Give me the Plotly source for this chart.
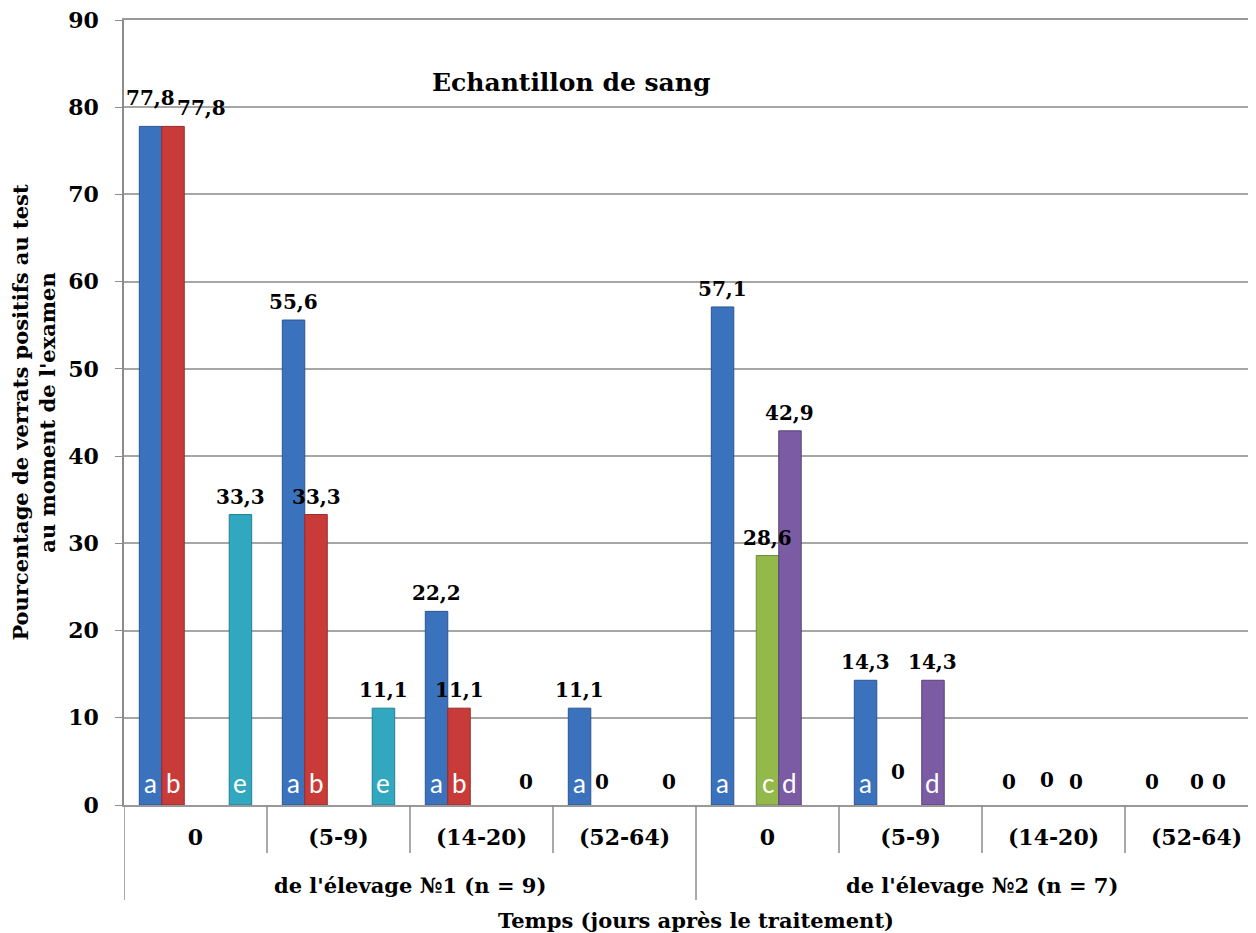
import plotly.graph_objects as go

# données
temps = ["0", "(5-9)", "(14-20)", "(52-64)", "0", "(5-9)", "(14-20)", "(52-64)"]
elevages = ["de l'élevage №1 (n = 9)", "de l'élevage №2 (n = 7)"]
lettres = ["a", "b", "c", "d", "e"]
serie_a = [77.8, 55.6, 22.2, 11.1, 57.1, 14.3, 0, 0]
serie_b = [77.8, 33.3, 11.1, 0, None, None, None, None]
serie_c = [None, None, None, None, 28.6, 0, 0, 0]
serie_d = [None, None, None, None, 42.9, 14.3, 0, 0]
serie_e = [33.3, 11.1, 0, 0, None, None, None, None]
series = [serie_a, serie_b, serie_c, serie_d, serie_e]

couleurs = ["#3A72BD", "#C93B39", "#93B94A", "#7B5BA4", "#31A7C0"]
bords = ["#2B5690", "#962B2A", "#6E8C34", "#5A4279", "#23808F"]

SERIF = "DejaVu Serif"
BARGAP = 0.214
slot = (1 - BARGAP) / len(series)

# petits décalages des étiquettes (comme dans le graphique Excel)
decalages = {(0, 0): (0, 10), (1, 0): (28, 0), (2, 5): (-13, 10), (2, 6): (-7, 2)}

x = list(range(len(temps)))

fig = go.Figure()
for k, vals in enumerate(series):
    fig.add_trace(go.Bar(
        x=x, y=vals, name=lettres[k],
        marker=dict(color=couleurs[k],
                    line=dict(color=bords[k], width=[1 if v else 0 for v in vals])),
        showlegend=False, hoverinfo="y",
    ))

annotations = []
for k, vals in enumerate(series):
    for g, v in enumerate(vals):
        if v is None:
            continue
        xc = g + (k - 2) * slot
        dx, dy = decalages.get((k, g), (0, 0))
        txt = "0" if v == 0 else f"{v:.1f}".replace(".", ",")
        annotations.append(dict(
            x=xc, y=v, xref="x", yref="y", text=txt, showarrow=False,
            yanchor="bottom", xshift=dx, yshift=(4 if v > 0 else 9) + dy,
            font=dict(family=SERIF, size=20, color="black", weight="bold"),
        ))
        if v > 0:
            annotations.append(dict(
                x=xc, y=0, xref="x", yref="y", text=lettres[k], showarrow=False,
                yanchor="bottom", yshift=4,
                font=dict(family="Lato", size=26, color="white"),
            ))

# libellés des élevages et titre de l'axe
for i, lab in enumerate(elevages):
    annotations.append(dict(
        x=1.5 + 4 * i, y=-0.102, xref="x", yref="paper", text=lab,
        showarrow=False, yanchor="middle",
        font=dict(family=SERIF, size=21, color="black", weight="bold"),
    ))
annotations.append(dict(
    x=3.5, y=-0.147, xref="x", yref="paper", text="Temps (jours après le traitement)",
    showarrow=False, yanchor="middle",
    font=dict(family=SERIF, size=21, color="black", weight="bold"),
))
annotations.append(dict(
    x=0.395, y=0.921, xref="paper", yref="paper", text="Echantillon de sang",
    showarrow=False, yanchor="middle",
    font=dict(family=SERIF, size=25, color="black", weight="bold"),
))

# séparateurs des catégories
shapes = []
for b in [0.5, 1.5, 2.5, 4.5, 5.5, 6.5]:
    shapes.append(dict(type="line", xref="x", yref="paper", x0=b, x1=b, y0=0, y1=-0.061,
                       line=dict(color="#8C8C8C", width=1.5)))
for b in [-0.5, 3.5]:
    shapes.append(dict(type="line", xref="x", yref="paper", x0=b, x1=b, y0=0, y1=-0.121,
                       line=dict(color="#8C8C8C", width=1.5)))

# la page ajoute une marge de 8 px autour de la figure
fig.update_layout(
    width=1248, height=925,
    margin=dict(l=116, r=0, t=12, b=128),
    plot_bgcolor="white", paper_bgcolor="white",
    barmode="group", bargap=BARGAP, bargroupgap=0,
    annotations=annotations, shapes=shapes,
    xaxis=dict(
        range=[-0.5, 7.416], tickvals=x, ticktext=temps, ticks="",
        showline=True, mirror=True, linecolor="#999999", linewidth=1.5, showgrid=False,
        ticklabelstandoff=12, automargin=False,
        tickfont=dict(family=SERIF, size=22, color="black", weight="bold"),
    ),
    yaxis=dict(
        range=[0, 90], tick0=0, dtick=10, ticks="outside", ticklen=7, tickcolor="#8C8C8C",
        showline=True, linecolor="#8C8C8C", linewidth=1.5,
        gridcolor="#A6A6A6", gridwidth=1.5, zeroline=False,
        ticklabelstandoff=12, automargin=False, ticklabeloverflow="allow",
        tickfont=dict(family=SERIF, size=22, color="black", weight="bold"),
        title=dict(text="Pourcentage de verrats positifs au test<br>au moment de l'examen",
                   standoff=14,
                   font=dict(family=SERIF, size=21, color="black", weight="bold")),
    ),
)

fig.write_html("out.html")
